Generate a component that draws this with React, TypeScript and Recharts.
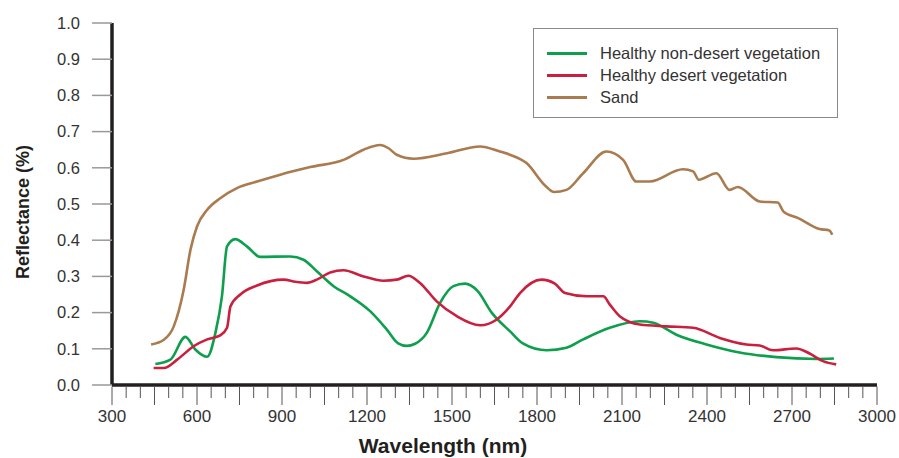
import { LineChart, Line, XAxis, YAxis, Legend, Label } from "recharts";

const GREEN = "#0d9f4c";
const RED = "#c8203e";
const BROWN = "#a97b4f";
const TEXT = "#333";

// reflectance spectra (wavelength nm, reflectance)
const nonDesert = [
  { w: 453, v: 0.058 }, { w: 506, v: 0.07 }, { w: 559, v: 0.133 }, { w: 594, v: 0.098 },
  { w: 636, v: 0.078 }, { w: 665, v: 0.144 }, { w: 688, v: 0.245 }, { w: 706, v: 0.383 },
  { w: 735, v: 0.403 }, { w: 776, v: 0.383 }, { w: 823, v: 0.354 }, { w: 929, v: 0.355 },
  { w: 976, v: 0.346 }, { w: 1023, v: 0.314 }, { w: 1082, v: 0.273 }, { w: 1141, v: 0.245 },
  { w: 1211, v: 0.204 }, { w: 1270, v: 0.153 }, { w: 1310, v: 0.115 }, { w: 1340, v: 0.108 },
  { w: 1370, v: 0.114 }, { w: 1411, v: 0.144 }, { w: 1458, v: 0.227 }, { w: 1505, v: 0.273 },
  { w: 1546, v: 0.28 }, { w: 1590, v: 0.26 }, { w: 1640, v: 0.2 }, { w: 1705, v: 0.148 },
  { w: 1750, v: 0.115 }, { w: 1834, v: 0.096 }, { w: 1904, v: 0.103 }, { w: 1963, v: 0.126 },
  { w: 2057, v: 0.158 }, { w: 2163, v: 0.176 }, { w: 2210, v: 0.172 }, { w: 2292, v: 0.139 },
  { w: 2398, v: 0.112 }, { w: 2515, v: 0.09 }, { w: 2645, v: 0.077 }, { w: 2786, v: 0.072 },
  { w: 2848, v: 0.073 },
];

const desert = [
  { w: 447, v: 0.047 }, { w: 483, v: 0.047 }, { w: 530, v: 0.07 }, { w: 588, v: 0.107 },
  { w: 636, v: 0.126 }, { w: 682, v: 0.137 }, { w: 706, v: 0.158 }, { w: 718, v: 0.217 },
  { w: 753, v: 0.25 }, { w: 812, v: 0.275 }, { w: 906, v: 0.291 }, { w: 947, v: 0.285 },
  { w: 988, v: 0.282 }, { w: 1023, v: 0.291 }, { w: 1070, v: 0.311 }, { w: 1117, v: 0.317 },
  { w: 1188, v: 0.3 }, { w: 1258, v: 0.288 }, { w: 1305, v: 0.291 }, { w: 1346, v: 0.302 },
  { w: 1387, v: 0.282 }, { w: 1446, v: 0.231 }, { w: 1517, v: 0.19 }, { w: 1599, v: 0.165 },
  { w: 1658, v: 0.181 }, { w: 1705, v: 0.217 }, { w: 1740, v: 0.254 }, { w: 1816, v: 0.291 },
  { w: 1863, v: 0.28 }, { w: 1899, v: 0.254 }, { w: 1975, v: 0.245 }, { w: 2034, v: 0.245 },
  { w: 2057, v: 0.222 }, { w: 2092, v: 0.19 }, { w: 2163, v: 0.167 }, { w: 2257, v: 0.162 },
  { w: 2351, v: 0.158 }, { w: 2445, v: 0.13 }, { w: 2539, v: 0.112 }, { w: 2586, v: 0.109 },
  { w: 2633, v: 0.096 }, { w: 2715, v: 0.101 }, { w: 2762, v: 0.087 }, { w: 2809, v: 0.066 },
  { w: 2856, v: 0.057 },
];

const sand = [
  { w: 438, v: 0.112 }, { w: 483, v: 0.125 }, { w: 518, v: 0.162 }, { w: 553, v: 0.263 },
  { w: 577, v: 0.374 }, { w: 600, v: 0.438 }, { w: 636, v: 0.484 }, { w: 682, v: 0.516 },
  { w: 741, v: 0.544 }, { w: 812, v: 0.562 }, { w: 894, v: 0.581 }, { w: 1000, v: 0.602 },
  { w: 1117, v: 0.622 }, { w: 1188, v: 0.65 }, { w: 1246, v: 0.663 }, { w: 1276, v: 0.654 },
  { w: 1305, v: 0.636 }, { w: 1364, v: 0.625 }, { w: 1482, v: 0.64 }, { w: 1599, v: 0.659 },
  { w: 1669, v: 0.645 }, { w: 1705, v: 0.636 }, { w: 1763, v: 0.613 }, { w: 1830, v: 0.55 },
  { w: 1860, v: 0.533 }, { w: 1904, v: 0.539 }, { w: 1963, v: 0.585 }, { w: 2045, v: 0.645 },
  { w: 2104, v: 0.622 }, { w: 2151, v: 0.562 }, { w: 2198, v: 0.562 }, { w: 2315, v: 0.596 },
  { w: 2351, v: 0.59 }, { w: 2371, v: 0.567 }, { w: 2433, v: 0.585 }, { w: 2480, v: 0.539 },
  { w: 2509, v: 0.547 }, { w: 2586, v: 0.507 }, { w: 2650, v: 0.504 }, { w: 2670, v: 0.479 },
  { w: 2722, v: 0.461 }, { w: 2797, v: 0.431 }, { w: 2832, v: 0.427 }, { w: 2842, v: 0.415 },
];

const yTicks = [0, 0.1, 0.2, 0.3, 0.4, 0.5, 0.6, 0.7, 0.8, 0.9, 1.0];
const xTicks = Array.from({ length: 55 }, (_, i) => 300 + i * 50);

const series = [
  { name: "Healthy non-desert vegetation", data: nonDesert, color: GREEN },
  { name: "Healthy desert vegetation", data: desert, color: RED },
  { name: "Sand", data: sand, color: BROWN },
];

const font = '"Liberation Sans", Arial, sans-serif';

// minor tick every 50, longer every 150, label every 300
function WaveTick({ x, y, payload }: any) {
  const v = payload.value;
  return (
    <g>
      <line x1={x} x2={x} y1={y + 1.5} y2={y + (v % 150 === 0 ? 20 : 13)} stroke="#555" strokeWidth={1} />
      {v % 300 === 0 && (
        <text x={x} y={y + 37} textAnchor="middle" fontSize={17} fill={TEXT} fontFamily={font}>
          {v}
        </text>
      )}
    </g>
  );
}

function LegendBox() {
  return (
    <div
      style={{
        border: "1px solid #8a8a8a",
        padding: "13px 0 9px 13px",
        fontFamily: font,
        fontSize: 16.5,
        color: TEXT,
        background: "#fff",
        boxSizing: "border-box",
        width: 305,
      }}
    >
      {series.map((s) => (
        <div key={s.name} style={{ display: "flex", alignItems: "center", height: 22 }}>
          <span style={{ display: "inline-block", width: 40, height: 3, background: s.color, marginRight: 13 }} />
          <span>{s.name}</span>
        </div>
      ))}
    </div>
  );
}

export default function App() {
  return (
    <div style={{ width: 899, height: 458, background: "#fff" }}>
      <style>{`body{margin:0}`}</style>
      <LineChart width={899} height={458} margin={{ top: 23, right: 22, bottom: 0, left: 0 }}>
        <XAxis
          dataKey="w"
          type="number"
          domain={[300, 3000]}
          ticks={xTicks}
          interval={0}
          tick={<WaveTick />}
          tickLine={false}
          tickSize={0}
          tickMargin={0}
          height={73}
          axisLine={{ stroke: "#231f20", strokeWidth: 3.5 }}
          allowDuplicatedCategory={false}
        >
          <Label
            content={() => (
              <text x={443} y={453} textAnchor="middle" fontSize={21} fontWeight="bold" fill="#231f20" fontFamily={font}>
                Wavelength (nm)
              </text>
            )}
          />
        </XAxis>
        <YAxis
          domain={[0, 1]}
          ticks={yTicks}
          interval={0}
          width={112}
          tickFormatter={(v: number) => v.toFixed(1)}
          tick={{ fontSize: 16.5, fill: TEXT, fontFamily: font }}
          tickSize={20}
          tickMargin={12}
          tickLine={{ stroke: "#999", strokeWidth: 1.5 }}
          axisLine={{ stroke: "#231f20", strokeWidth: 3.5 }}
        >
          <Label
            content={() => (
              <text
                x={29}
                y={212}
                transform="rotate(-90 29 212)"
                textAnchor="middle"
                fontSize={18}
                fontWeight="bold"
                fill="#231f20"
                fontFamily={font}
              >
                Reflectance (%)
              </text>
            )}
          />
        </YAxis>
        <Legend
          layout="horizontal"
          align="center"
          verticalAlign="middle"
          content={() => <LegendBox />}
          wrapperStyle={{ position: "absolute", left: 533, top: 28, width: 305 }}
        />
        {series.map((s) => (
          <Line
            key={s.name}
            name={s.name}
            data={s.data}
            dataKey="v"
            type="monotone"
            stroke={s.color}
            strokeWidth={2.6}
            dot={false}
            activeDot={false}
            isAnimationActive={false}
          />
        ))}
      </LineChart>
    </div>
  );
}
